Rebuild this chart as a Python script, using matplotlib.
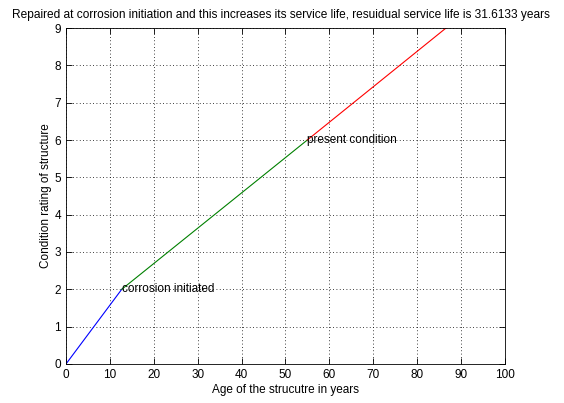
import matplotlib
matplotlib.use("Agg")
import matplotlib.pyplot as plt

plt.rcParams['font.family'] = ['Liberation Sans', 'DejaVu Sans']
plt.rcParams['font.size'] = 8.5

# segments of the condition rating curve
blue_x = [0, 12.7]
blue_y = [0, 2]
green_x = [12.7, 55.0]
green_y = [2, 6]
red_x = [55.0, 86.6133]
red_y = [6, 9]

fig = plt.figure(figsize=(5.64, 4.03), dpi=100)
ax = fig.add_axes([0.117, 0.0968, 0.778, 0.8337])

ax.plot(blue_x, blue_y, color='blue', lw=0.8)
ax.plot(green_x, green_y, color='green', lw=0.8)
ax.plot(red_x, red_y, color='red', lw=0.8)

ax.text(blue_x[-1], blue_y[-1], 'corrosion initiated', va='center', ha='left')
ax.text(green_x[-1], green_y[-1], 'present condition', va='center', ha='left')

ax.set_xlim(0, 100)
ax.set_ylim(0, 9)
ax.set_xticks(range(0, 101, 10))
ax.set_yticks(range(0, 10))
ax.grid(True, color='black', linestyle=(0, (1, 3)), linewidth=0.6)
ax.tick_params(direction='in', top=True, right=True, length=4, width=0.6)
for s in ax.spines.values():
    s.set_linewidth(0.6)

ax.set_xlabel('Age of the strucutre in years', labelpad=2)
ax.set_ylabel('Condition rating of structure', labelpad=2)
fig.text(0.499, 0.963,
         'Repaired at corrosion initiation and this increases its service life, resuidual service life is 31.6133 years',
         ha='center', va='center', fontsize=8.6)

fig.savefig('out.png', dpi=100)
